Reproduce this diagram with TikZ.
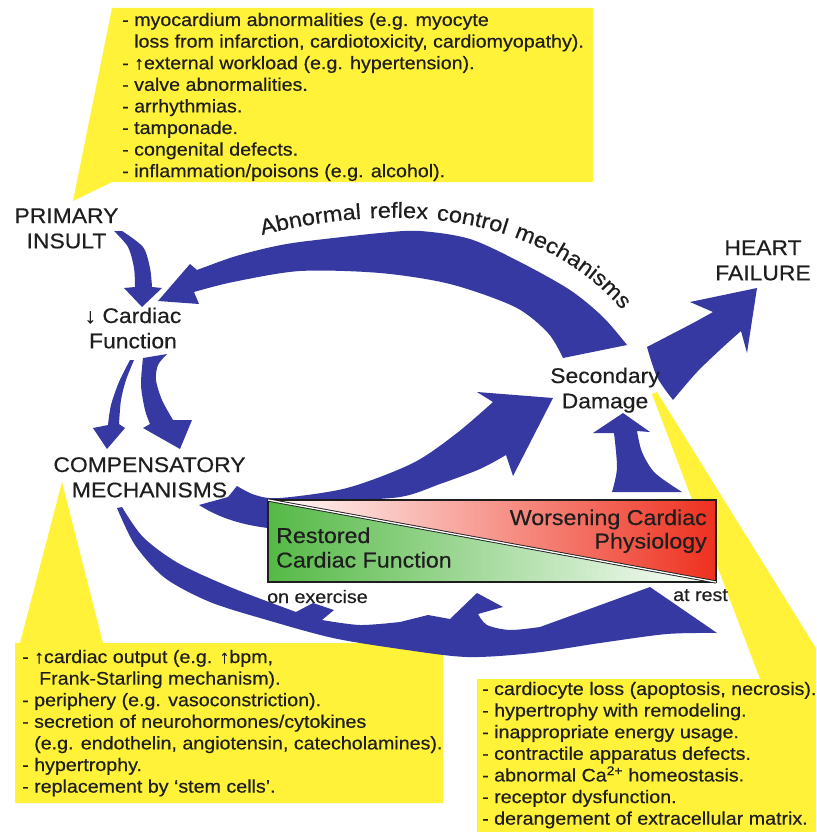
\documentclass[tikz,border=0pt]{standalone}
\usepackage{fontspec}
\setmainfont{Liberation Sans}[FakeStretch=1.08, FakeBold=0.4]
\usetikzlibrary{decorations.text}
\definecolor{arrowblue}{RGB}{55,57,163}
\definecolor{callyellow}{RGB}{255,242,56}
\definecolor{barred}{RGB}{238,48,30}
\definecolor{bargreen}{RGB}{85,185,70}
\definecolor{inkcol}{RGB}{30,30,30}
\newcommand{\callfont}{\fontsize{18.2}{21.6}\selectfont}
\newcommand{\labfont}{\fontsize{21.2}{25.3}\selectfont}
\newcommand{\barfont}{\fontsize{21.5}{24.5}\selectfont}
\newcommand{\arcfont}{\fontsize{21.8}{25}\selectfont}
\begin{document}
\begin{tikzpicture}[x=1pt,y=-1pt,
  callout/.style={fill=callyellow},
  bluearrow/.style={fill=arrowblue},
  lab/.style={font=\labfont, text=inkcol, inner sep=0pt},
  calltext/.style={font=\callfont, text=inkcol, inner sep=0pt, anchor=base west},
  small/.style={font=\callfont, text=inkcol, inner sep=0pt, anchor=base west}]
\useasboundingbox (0,0) rectangle (816,832);
\clip (0,0) rectangle (816,832);

% ---------- yellow callouts ----------
\fill[callout] (112,8) -- (593,8) -- (593,182) -- (112,182) -- (73,201) -- cycle;
\fill[callout] (62,482) -- (103,643) -- (443,643) -- (443,803) -- (15,803) -- (15,643) -- (20,643) -- cycle;
\fill[callout] (652,394) -- (657,392) -- (930,832) -- (477,832) -- (477,679) -- (760,679) -- cycle;

% ---------- blue arrows ----------
% primary insult -> cardiac function
\fill[bluearrow] (114,231) -- plot[smooth] coordinates {(114,231) (128,247) (134,268) (135,287)}
  -- (124,288) -- (142,307) -- (162,288) -- (152,287)
  -- plot[smooth] coordinates {(152,287) (150,268) (143,247) (122,231)} -- cycle;
% abnormal reflex control arc
\fill[bluearrow] (627,345)
  -- plot[smooth] coordinates {(627,345) (603,317) (570,290) (520,262) (470,239) (420,231) (380,233) (300,242) (267,248) (233,257) (197,270)}
  -- (190,264) -- (158,301) -- (199,304) -- (194,292)
  -- plot[smooth] coordinates {(194,292) (233,282) (300,271) (380,273) (450,284) (515,307) (548,333) (563,358)}
  -- cycle;
% cardiac function -> compensatory (left thin)
\fill[bluearrow] (130,360) -- plot[smooth] coordinates {(130,360) (119,382) (111,405) (108,425)}
  -- (93,428) -- (107,449) -- (125,428) -- (119,424)
  -- plot[smooth] coordinates {(119,424) (121,400) (126,380) (134,360)} -- cycle;
% cardiac function -> compensatory (right thick)
\fill[bluearrow] (143,358) -- plot[smooth] coordinates {(143,358) (141,385) (145,410) (150,424)}
  -- (143,428) -- (180,449) -- (192,420) -- (173,420)
  -- plot[smooth] coordinates {(173,420) (162,400) (156,380) (158,365) (167,354)} -- cycle;
% secondary damage -> heart failure
\fill[bluearrow] (647,347) -- plot[smooth] coordinates {(647,347) (672,334) (695,322) (713,312)}
  -- (690,302) -- (757,288) -- (747,353) -- (741,331)
  -- plot[smooth] coordinates {(741,331) (722,348) (697,372) (673,400)}
  -- plot[smooth] coordinates {(673,400) (657,377) (647,347)} -- cycle;
% bar -> secondary damage (up)
\fill[bluearrow] (623,413) -- (650,432) -- (637,431)
  -- plot[smooth] coordinates {(637,431) (642,452) (655,473) (682,492)}
  -- (612,492) -- plot[smooth] coordinates {(612,492) (617,468) (614,433)}
  -- (593,433) -- cycle;
% compensatory -> secondary damage (middle)
\fill[bluearrow] (237,486)
  -- plot[smooth] coordinates {(237,486) (255,495) (280,498) (347,488) (413,463) (457,433) (493,402)}
  -- (477,392) -- (553,398) -- (513,476) -- (506,455)
  -- plot[smooth] coordinates {(506,455) (480,469) (440,484) (400,497) (330,501) (272,502)}
  -- (268,528) .. controls (235,524) and (215,515) .. (199,505) -- (228,497) -- cycle;
% bottom arc
\fill[bluearrow] (117,508) -- (122,507)
  -- plot[smooth] coordinates {(122,507) (143,537) (178,563) (230,587) (296,612)}
  -- (313,603) -- (334,610) -- (322,620)
  -- plot[smooth] coordinates {(322,620) (360,625) (400,622)}
  -- (428,615) -- (450,619) -- (477,593) -- (503,607) -- (478,614)
  -- plot[smooth] coordinates {(478,614) (487,625) (510,630) (540,627)}
  -- (573,615) -- (650,587) -- (717,633)
  -- plot[smooth] coordinates {(717,633) (667,634) (600,643) (533,653) (467,657) (400,649) (333,638) (267,620) (210,602) (165,578) (135,545) (117,508)}
  -- cycle;

% ---------- gradient bar ----------
\shade[left color=white, middle color=barred!55!white, right color=barred] (268,500) -- (716,500) -- (716,582) -- cycle;
\shade[left color=bargreen, middle color=bargreen!55!white, right color=white] (268,500) -- (716,582) -- (268,582) -- cycle;
\draw[line width=1.5pt, inkcol] (268,500) rectangle (716,582);
\draw[double=white, double distance=1.3pt, line width=0.9pt, draw=inkcol] (268,500) -- (716,582);

% ---------- labels ----------
\node[lab, anchor=base] (primary) at (66.5,223) {\begin{tabular}[t]{@{}c@{}}PRIMARY\\INSULT\end{tabular}};
\node[lab, anchor=base] (cardiac) at (133,323) {\begin{tabular}[t]{@{}c@{}}\textbf{↓} Cardiac\\Function\end{tabular}};
\node[lab, anchor=base] (comp) at (149.5,472) {\begin{tabular}[t]{@{}c@{}}COMPENSATORY\\MECHANISMS\end{tabular}};
\node[lab, anchor=base] (heart) at (763,255) {\begin{tabular}[t]{@{}c@{}}HEART\\FAILURE\end{tabular}};
\node[lab, anchor=base] (second) at (605,383) {\begin{tabular}[t]{@{}c@{}}Secondary\\Damage\end{tabular}};
\node[lab, font=\barfont, anchor=base west] (restored) at (276,543) {\begin{tabular}[t]{@{}l@{}}Restored\\Cardiac Function\end{tabular}};
\node[lab, font=\fontsize{21.5}{23.5}\selectfont, anchor=base east] (worse) at (707,525) {\begin{tabular}[t]{@{}r@{}}Worsening Cardiac\\Physiology\end{tabular}};
\node[small] (exercise) at (267,603) {on exercise};
\node[small] (rest) at (673,601) {at rest};

\path[decorate, decoration={text along path, text={|\arcfont\color{inkcol}|Abnormal reflex control mechanisms}, text align={fit to path stretching spaces}}]
  (262,235) .. controls (400,200) and (540,215) .. (622,310);

% ---------- callout texts ----------
\node[calltext] (toptext) at (122,26) {\begin{tabular}[t]{@{}l@{}}
- myocardium abnormalities (e.g. myocyte\\
\phantom{- }loss from infarction, cardiotoxicity, cardiomyopathy).\\
- ↑external workload (e.g. hypertension).\\
- valve abnormalities.\\
- arrhythmias.\\
- tamponade.\\
- congenital defects.\\
- inflammation/poisons (e.g. alcohol).\end{tabular}};
\node[calltext] (lefttext) at (22,663) {\begin{tabular}[t]{@{}l@{}}
- ↑cardiac output (e.g. ↑bpm,\\
\hspace*{17pt}Frank-Starling mechanism).\\
- periphery (e.g. vasoconstriction).\\
- secretion of neurohormones/cytokines\\
\phantom{- }(e.g. endothelin, angiotensin, catecholamines).\\
- hypertrophy.\\
- replacement by `stem cells'.\end{tabular}};
\node[calltext] (righttext) at (482,695) {\begin{tabular}[t]{@{}l@{}}
- cardiocyte loss (apoptosis, necrosis).\\
- hypertrophy with remodeling.\\
- inappropriate energy usage.\\
- contractile apparatus defects.\\
- abnormal Ca\textsuperscript{2+} homeostasis.\\
- receptor dysfunction.\\
- derangement of extracellular matrix.\end{tabular}};
\end{tikzpicture}
\end{document}
